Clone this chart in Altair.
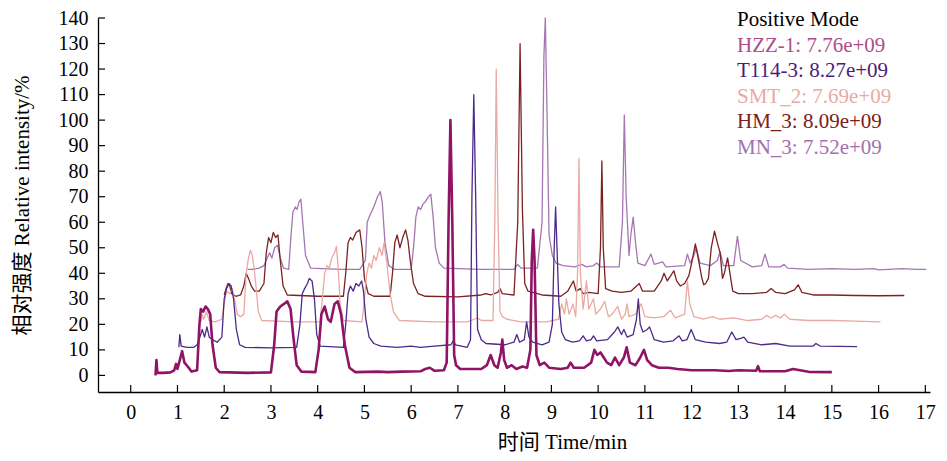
import altair as alt
import pandas as pd

# ---------------- data ----------------
SERIES = ["HZZ-1", "T114-3", "SMT_2", "HM_3", "MN_3"]
TIC_VALUES = ["7.76e+09", "8.27e+09", "7.69e+09", "8.09e+09", "7.52e+09"]
LEGEND_TITLE = "Positive Mode"
X_TICKS = list(range(0, 18))
Y_TICKS = list(range(0, 141, 10))

HZZ_T = [0.53, 0.55, 0.57, 0.7, 0.85, 0.93, 0.97, 1.0, 1.05, 1.1, 1.15, 1.22, 1.3, 1.42, 1.47, 1.5, 1.55, 1.6, 1.65, 1.7,
         1.75, 1.82, 1.9, 2.5, 3.0, 3.07, 3.12, 3.2, 3.28, 3.35, 3.42, 3.48, 3.55, 3.65, 3.95, 4.02, 4.08, 4.15, 4.22, 4.28,
         4.36, 4.43, 4.5, 4.58, 4.68, 4.8, 5.3, 5.5, 5.8, 6.2, 6.3, 6.4, 6.5, 6.7, 6.76, 6.8, 6.84, 6.88, 6.92, 6.96,
         7.05, 7.5, 7.62, 7.7, 7.78, 7.85, 7.92, 7.95, 7.99, 8.05, 8.15, 8.25, 8.38, 8.48, 8.55, 8.58, 8.61, 8.64, 8.68, 8.75,
         8.85, 8.95, 9.2, 9.35, 9.41, 9.48, 9.7, 9.85, 9.92, 9.98, 10.05, 10.12, 10.19, 10.28, 10.36, 10.45, 10.55, 10.61, 10.68, 10.8,
         10.9, 10.98, 11.05, 11.15, 11.3, 11.5, 11.7, 12.0, 12.5, 12.8, 13.0, 13.38, 13.42, 13.46, 14.0, 14.17, 14.5, 15.0]
HZZ_I = [0, 6, 1, 1, 1.2, 2, 4.5, 2.5, 6, 9.5, 5, 3.5, 1.5, 2, 20, 26, 25, 27, 26, 24,
         12, 3, 1.3, 1.0, 1.2, 12, 25, 27, 28, 29, 26, 15, 4, 1.5, 1.3, 10, 24, 27, 22, 21,
         28, 29, 24, 12, 3, 1.3, 1.5, 1.3, 1.5, 1.6, 2.5, 3, 1.8, 2, 5, 60, 100, 60, 8, 4,
         2.5, 2.5, 4, 8, 4, 3, 9, 14, 6, 3, 4, 2.5, 3.5, 3, 10, 45, 57, 45, 8, 4,
         5, 3, 2.5, 3, 5, 3, 3, 5, 10, 8, 9, 7, 5, 4, 7, 4, 7, 11, 5, 4,
         7, 10, 6, 4, 3, 3, 2.5, 2, 2, 1.7, 2, 1.8, 3.6, 1.6, 1.6, 2.5, 1.4, 1.3]

T114_T = [1.03, 1.05, 1.08, 1.2, 1.35, 1.42, 1.48, 1.53, 1.58, 1.63, 1.68, 1.75, 1.85, 1.95, 2.0, 2.05, 2.1, 2.15, 2.2, 2.26,
          2.33, 2.45, 3.0, 3.55, 3.62, 3.67, 3.72, 3.78, 3.82, 3.88, 3.93, 3.98, 4.05, 4.55, 4.6, 4.65, 4.7, 4.76, 4.82, 4.88,
          4.94, 4.98, 5.03, 5.1, 5.2, 5.35, 5.7, 6.0, 6.2, 6.5, 6.85, 6.9, 6.95, 7.2, 7.27, 7.3, 7.34, 7.38, 7.42, 7.5,
          7.6, 8.0, 8.2, 8.26, 8.32, 8.42, 8.47, 8.52, 8.6, 8.8, 8.95, 9.02, 9.06, 9.09, 9.12, 9.16, 9.22, 9.3, 9.45, 9.6,
          9.68, 9.75, 9.85, 9.9, 9.97, 10.2, 10.35, 10.42, 10.5, 10.55, 10.62, 10.75, 10.82, 10.86, 10.9, 10.96, 11.05, 11.1, 11.2, 11.4,
          11.6, 11.73, 11.8, 11.9, 11.99, 12.08, 12.3, 12.6, 12.75, 12.86, 12.95, 13.05, 13.12, 13.2, 13.5, 13.8, 14.1, 14.6, 14.66, 14.75,
          15.54]
T114_I = [11, 16, 11.5, 11, 11, 12, 15, 18, 15, 19, 15, 14, 13, 15, 30, 34, 36, 35, 30, 18,
          12, 11, 10.8, 11, 20, 32, 34, 36, 38, 37, 30, 16, 11.5, 11, 20, 32, 35, 33, 36, 35,
          37, 33, 22, 15, 12.5, 11.5, 11, 11.5, 11, 11.5, 12, 13.5, 12, 11, 14, 70, 110, 70, 18, 14,
          12.5, 12, 13, 16, 13, 14, 21, 15, 13, 12, 13, 20, 50, 66, 50, 28, 17, 14, 13, 13.5,
          15.5, 13.5, 14, 15.5, 13.5, 14, 17, 19, 16, 18, 15, 16, 22, 30, 20, 17, 18, 19, 14, 13,
          13.5, 15.5, 13.5, 14, 18, 14, 13, 12.5, 13, 17, 14, 14.5, 15, 13, 12, 12.5, 11.5, 11.5, 12.5, 11.5,
          11.3]

SMT_T = [1.5, 1.53, 1.56, 1.62, 1.68, 1.8, 1.95, 2.0, 2.05, 2.12, 2.17, 2.22, 2.28, 2.35, 2.42, 2.47, 2.52, 2.56, 2.6, 2.64,
         2.68, 2.73, 2.8, 3.5, 4.05, 4.1, 4.15, 4.2, 4.25, 4.3, 4.36, 4.4, 4.44, 4.48, 4.55, 4.95, 5.0, 5.05, 5.1, 5.15,
         5.2, 5.25, 5.32, 5.38, 5.42, 5.48, 5.55, 5.62, 5.75, 6.5, 7.2, 7.35, 7.42, 7.5, 7.75, 7.79, 7.82, 7.86, 7.9, 7.95,
         8.05, 8.2, 8.35, 8.9, 9.15, 9.22, 9.28, 9.32, 9.38, 9.46, 9.52, 9.56, 9.59, 9.62, 9.68, 9.75, 9.8, 9.9, 9.95, 10.05,
         10.14, 10.22, 10.3, 10.42, 10.5, 10.58, 10.62, 10.66, 10.8, 10.92, 11.0, 11.2, 11.4, 11.55, 11.65, 11.85, 11.91, 11.96, 12.05, 12.25,
         12.45, 12.6, 12.9, 13.2, 13.5, 13.6, 13.7, 13.8, 13.9, 13.98, 14.1, 14.5, 15.0, 15.5, 16.04]
SMT_I = [21, 24, 22, 25, 21.5, 21, 22, 28, 33, 32, 34, 30, 24, 23, 24, 40, 46, 49, 47, 42,
         35, 25, 21.5, 21, 21, 30, 40, 43, 42, 46, 48, 50.5, 42, 28, 21.5, 21, 30, 40, 44, 42,
         47, 45, 50, 47, 52, 44, 32, 25, 21.5, 21, 21, 22, 22.5, 21.5, 21.5, 60, 120, 60, 25, 23,
         22, 21.5, 21, 21, 22, 28, 24, 30, 24, 28, 23, 40, 85, 40, 26, 37, 26, 30, 24, 26,
         29, 23, 24, 27, 22, 24, 28, 23, 24, 28, 23, 22.5, 23, 25.5, 22.5, 24, 37, 28, 23, 22,
         23, 22, 22.5, 21.5, 22, 23.5, 22.5, 23.5, 22.5, 24, 22, 21.5, 21.5, 21.3, 21]

HM_T = [2.0, 2.04, 2.08, 2.12, 2.16, 2.25, 2.35, 2.42, 2.47, 2.52, 2.58, 2.65, 2.75, 2.85, 2.9, 2.95, 3.0, 3.05, 3.1, 3.15,
        3.2, 3.26, 3.35, 4.0, 4.55, 4.6, 4.65, 4.7, 4.75, 4.82, 4.9, 4.95, 5.0, 5.08, 5.2, 5.55, 5.6, 5.65, 5.7, 5.76,
        5.82, 5.88, 5.93, 5.98, 6.05, 6.15, 6.3, 7.0, 7.5, 7.6, 7.7, 7.85, 7.9, 7.95, 8.2, 8.28, 8.33, 8.38, 8.43, 8.5,
        8.6, 8.8, 9.2, 9.35, 9.47, 9.53, 9.62, 9.68, 9.8, 10.0, 10.05, 10.08, 10.11, 10.16, 10.3, 10.5, 10.7, 10.88, 10.95, 11.2,
        11.35, 11.41, 11.48, 11.55, 11.62, 11.68, 11.76, 11.85, 11.94, 12.0, 12.08, 12.15, 12.22, 12.26, 12.3, 12.36, 12.42, 12.49, 12.55, 12.61,
        12.66, 12.7, 12.77, 12.82, 12.88, 13.0, 13.3, 13.6, 13.7, 13.8, 14.0, 14.2, 14.28, 14.36, 14.6, 15.0, 15.5, 16.0, 16.55]
HM_I = [31.5, 34, 36, 35, 32, 31, 31.5, 35, 40, 38, 35, 33, 33, 36, 48, 54, 52, 56, 54, 55,
        45, 35, 31.5, 31, 31, 40, 52, 54, 53, 56, 57, 50, 38, 32, 31, 31, 40, 52, 55, 50,
        54, 57, 53, 45, 36, 32, 31, 30.8, 31.5, 32, 31.5, 32.5, 34, 32, 31.5, 60, 130, 65, 36, 33,
        32.5, 31.5, 31, 33, 37, 33, 34, 32, 32.5, 32, 50, 84, 50, 34, 33, 32.5, 33, 36, 33, 33,
        37, 40, 37, 39, 41, 37, 35, 36, 39, 44, 51.5, 45, 38, 35.5, 36, 38, 50, 56.5, 52, 48,
        38, 40, 46, 40, 33, 32, 32, 32.5, 34, 32.5, 32, 33.5, 35.5, 32.5, 31.5, 31.5, 31.3, 31.2, 31.3]

MN_T = [2.5, 2.6, 2.75, 2.85, 2.92, 2.97, 3.02, 3.08, 3.14, 3.2, 3.27, 3.38, 3.43, 3.47, 3.52, 3.56, 3.6, 3.64, 3.68, 3.74,
        3.85, 4.5, 4.9, 5.02, 5.06, 5.1, 5.15, 5.2, 5.28, 5.34, 5.38, 5.44, 5.52, 5.65, 6.0, 6.06, 6.1, 6.15, 6.2, 6.25,
        6.3, 6.37, 6.42, 6.47, 6.52, 6.6, 6.7, 7.5, 8.2, 8.28, 8.35, 8.7, 8.8, 8.84, 8.87, 8.9, 8.95, 9.02, 9.1, 9.25,
        9.5, 9.65, 9.75, 9.9, 9.97, 10.05, 10.45, 10.52, 10.56, 10.6, 10.66, 10.7, 10.75, 10.8, 10.85, 11.0, 11.13, 11.2, 11.38, 11.45,
        11.85, 11.91, 11.97, 12.05, 12.1, 12.18, 12.4, 12.55, 12.61, 12.68, 12.9, 12.98, 13.05, 13.3, 13.5, 13.57, 13.65, 13.9, 13.98, 14.05,
        14.5, 15.0, 15.5, 15.9, 16.0, 16.5, 16.8, 17.02]
MN_I = [41.5, 41.5, 42, 43, 46, 48, 46, 50, 51, 46, 42, 41.5, 55, 64, 66, 65, 68, 69, 60, 47,
        42, 41.5, 41.5, 45, 60, 62, 64, 66, 70, 72, 68, 52, 43, 41.5, 41.5, 52, 62, 66, 65, 67,
        68, 70, 71, 62, 50, 44, 42, 41.5, 41.5, 43.5, 42, 42, 60, 125, 140, 110, 55, 47, 44, 43,
        42.5, 43.5, 42.5, 43, 44, 42.5, 42.5, 60, 102, 70, 47, 55, 62, 52, 44, 43, 47.5, 43.5, 44.5, 42.5,
        43, 47.5, 44, 47, 50, 44, 43, 45, 48.5, 43, 43, 54.5, 45, 42.5, 43, 47.5, 42.5, 42.5, 43.5, 42,
        41.5, 41.8, 41.5, 41.8, 41.3, 41.8, 41.5, 41.5]

TRACES = {
    "HZZ-1": (HZZ_T, HZZ_I),
    "T114-3": (T114_T, T114_I),
    "SMT_2": (SMT_T, SMT_I),
    "HM_3": (HM_T, HM_I),
    "MN_3": (MN_T, MN_I),
}

# ---------------- style ----------------
LINE_COLORS = {"HZZ-1": "#8f1466", "T114-3": "#4b2a8a", "SMT_2": "#eaa9a1", "HM_3": "#7a2222", "MN_3": "#a676b3"}
TEXT_COLORS = {"HZZ-1": "#ae4d8b", "T114-3": "#4b1c7c", "SMT_2": "#e8aaa6", "HM_3": "#7a2020", "MN_3": "#a271ad"}
LINE_WIDTHS = {"HZZ-1": 2.6, "T114-3": 1.3, "SMT_2": 1.3, "HM_3": 1.3, "MN_3": 1.3}
SERIF = "Liberation Serif, Times New Roman, Noto Sans CJK SC"
PAD_L, PAD_T, PAD_R, PAD_B = 90, 10, 9, 61
W, H = 832, 374

xs = alt.Scale(domain=[-0.7, 17.1], nice=False, zero=False)
ys = alt.Scale(domain=[-6.5, 140], nice=False, zero=False)

x_axis = alt.Axis(values=X_TICKS, title="时间 Time/min", tickSize=0, ticks=False, labelPadding=10,
                  titlePadding=9, titleX=464, labelFlush=False, labelOverlap=False, grid=False)
y_axis = alt.Axis(values=Y_TICKS, title="相对强度 Relative intensity/%", tickSize=0, ticks=False,
                  labelPadding=10, titlePadding=26, labelOverlap=False, grid=False)

layers = []
for name in reversed(SERIES):
    ts, vs = TRACES[name]
    df = pd.DataFrame({"t": ts, "v": vs, "i": list(range(len(ts)))})
    layers.append(
        alt.Chart(df).mark_line(color=LINE_COLORS[name], strokeWidth=LINE_WIDTHS[name], strokeJoin="round")
        .encode(
            x=alt.X("t:Q", scale=xs, axis=x_axis),
            y=alt.Y("v:Q", scale=ys, axis=y_axis),
            order="i:Q",
        )
    )

# inward tick marks
xt = alt.Chart(pd.DataFrame({"t": X_TICKS})).mark_rule(color="black", strokeWidth=1.2).encode(
    x=alt.X("t:Q", scale=xs, axis=x_axis), y=alt.value(H), y2=alt.value(H - 7))
yt = alt.Chart(pd.DataFrame({"v": Y_TICKS})).mark_rule(color="black", strokeWidth=1.2).encode(
    y=alt.Y("v:Q", scale=ys, axis=y_axis), x=alt.value(0), x2=alt.value(7))
layers += [xt, yt]

# legend text
LEG_X = 639
ROW0, ROWSTEP = 2, 25.6
layers.append(
    alt.Chart(pd.DataFrame({"s": [LEGEND_TITLE]})).mark_text(
        align="left", baseline="middle", font=SERIF, fontSize=21, color="black")
    .encode(text="s:N", x=alt.value(LEG_X), y=alt.value(ROW0))
)
for k, name in enumerate(SERIES):
    layers.append(
        alt.Chart(pd.DataFrame({"s": [f"{name}: {TIC_VALUES[k]}"]})).mark_text(
            align="left", baseline="middle", font=SERIF, fontSize=21, color=TEXT_COLORS[name])
        .encode(text="s:N", x=alt.value(LEG_X), y=alt.value(ROW0 + (k + 1) * ROWSTEP))
    )

chart = alt.layer(*layers).properties(
    width=W, height=H,
    autosize=alt.AutoSizeParams(type="none"),
    padding={"left": PAD_L, "top": PAD_T, "right": PAD_R, "bottom": PAD_B},
).configure_view(stroke=None).configure_axis(
    grid=False, domainColor="black", domainWidth=1.3,
    labelFont=SERIF, labelFontSize=20, labelColor="black",
    titleFont=SERIF, titleFontSize=21, titleFontWeight="normal", titleColor="black",
)

chart.save("out.html", embed_options={"renderer": "svg", "actions": False})
